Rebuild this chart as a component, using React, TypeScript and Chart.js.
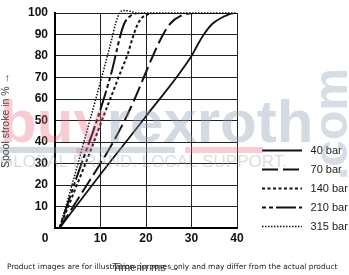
import React, { useEffect, useRef } from "react";
import { Chart, registerables } from "chart.js";

Chart.register(...registerables);

// ---- data ----
const seriesLabels = ["40 bar", "70 bar", "140 bar", "210 bar", "315 bar"];

const t40 = [1, 10, 20, 30, 31.3, 32.7, 34.6, 36.8, 39.4, 40];
const s40 = [0, 25, 52, 80, 85, 90, 95, 98, 100, 100];

const t70 = [1, 7, 10, 12.8, 15.3, 17.5, 19.5, 21.5, 23.5, 25.3, 27.5, 30.5, 40];
const s70 = [0, 20, 30, 40, 50, 60, 70, 80, 89, 95, 98.5, 100, 100];

const t140 = [1, 5, 8, 10.3, 12.5, 14.5, 16, 17, 18, 19, 20.5, 22, 40];
const s140 = [0, 21, 37, 50, 62, 73, 81, 88, 94, 97.5, 99.5, 100, 100];

const t210 = [1, 5, 9.2, 11, 12.5, 13.5, 14.3, 15.2, 16.5, 18.5, 40];
const s210 = [0, 25, 50, 62, 73, 82, 89, 95, 98.5, 100, 100];

const t315 = [1, 4, 7, 10, 11.5, 12.5, 13.3, 14.2, 15, 16.5, 18, 40];
const s315 = [0, 22, 45, 68, 80, 88, 95, 100, 101.2, 100.8, 100, 100];

const xTickValues = [0, 10, 20, 30, 40];
const yTickValues = [0, 10, 20, 30, 40, 50, 60, 70, 80, 90, 100];

const xTitle = "Time in ms \u2192";
const yTitle = "Spool stroke in % \u2192";
const footerText =
  "Product images are for illustration purposes only and may differ from the actual product";

const pts = (t: number[], s: number[]) => t.map((x, i) => ({ x, y: s[i] }));

const FONT = "'Liberation Sans', Arial, sans-serif";

const extras = {
  id: "extras",
  afterLayout(chart: any) {
    const lg = chart.legend;
    if (!lg) return;
    lg.left = 254;
    lg.right = 349;
    lg.width = 95;
    const h = lg.height;
    lg.top = 137;
    lg.bottom = 137 + h;
  },
  afterDraw(chart: any) {
    const ctx = chart.ctx;
    const xs = chart.scales.x;
    const ys = chart.scales.y;
    ctx.save();
    // shared origin label
    ctx.fillStyle = "#111";
    ctx.font = `bold 12px ${FONT}`;
    ctx.textAlign = "center";
    ctx.textBaseline = "middle";
    ctx.fillText("0", xs.getPixelForValue(0) - 10, ys.getPixelForValue(0) + 11);

    // watermark
    ctx.textAlign = "left";
    ctx.textBaseline = "alphabetic";
    ctx.font = `bold 60px ${FONT}`;
    ctx.fillStyle = "rgba(235,100,120,0.33)";
    ctx.fillText("buy", 0, 142);
    const wb = ctx.measureText("buy").width;
    ctx.fillStyle = "rgba(140,158,180,0.38)";
    ctx.fillText("rexroth", wb, 142);
    ctx.fillRect(0, 147, 175, 6);
    ctx.fillStyle = "rgba(235,100,120,0.33)";
    ctx.fillRect(185, 147, 78, 6);
    ctx.font = `17px ${FONT}`;
    ctx.fillStyle = "rgba(165,170,175,0.42)";
    ctx.fillText("GLOBAL BRAND. LOCAL SUPPORT.", 0, 167);
    ctx.save();
    ctx.translate(347, 180);
    ctx.rotate(-Math.PI / 2);
    ctx.font = `bold 48px ${FONT}`;
    ctx.fillStyle = "rgba(140,158,180,0.35)";
    ctx.fillText(".com", 0, 0);
    ctx.restore();

    // footer
    ctx.fillStyle = "#222";
    ctx.font = `7px 'DejaVu Sans', sans-serif`;
    const fw = ctx.measureText(footerText).width;
    const size = (7 * 331) / fw;
    ctx.font = `${size}px 'DejaVu Sans', sans-serif`;
    ctx.textBaseline = "middle";
    ctx.fillText(footerText, 7, 267);
    ctx.restore();
  },
};

export default function App() {
  const ref = useRef<HTMLCanvasElement | null>(null);
  useEffect(() => {
    if (!ref.current) return;
    const common = {
      borderColor: "#111",
      pointRadius: 0,
      fill: false,
      cubicInterpolationMode: "monotone" as const,
    };
    const chart = new Chart(ref.current, {
      type: "line",
      data: {
        datasets: [
          { ...common, label: seriesLabels[0], data: pts(t40, s40), borderWidth: 1.8 },
          { ...common, label: seriesLabels[1], data: pts(t70, s70), borderWidth: 2, borderDash: [16, 5] },
          { ...common, label: seriesLabels[2], data: pts(t140, s140), borderWidth: 2, borderDash: [3, 2.5] },
          { ...common, label: seriesLabels[3], data: pts(t210, s210), borderWidth: 2, borderDash: [4, 3, 4, 3, 20, 3] },
          { ...common, label: seriesLabels[4], data: pts(t315, s315), borderWidth: 1.5, borderDash: [1.5, 1.5], clip: false as any },
        ],
      },
      options: {
        animation: false,
        responsive: true,
        maintainAspectRatio: false,
        layout: { padding: { top: 6, right: 17, bottom: 0, left: 0 } },
        plugins: {
          tooltip: { enabled: false },
          legend: {
            position: "right",
            align: "start",
            maxWidth: 95,
            labels: {
              usePointStyle: true,
              pointStyle: "line",
              pointStyleWidth: 40,
              padding: 8,
              color: "#222",
              font: { family: FONT, size: 11 },
              generateLabels: (c: any) =>
                Chart.defaults.plugins.legend.labels
                  .generateLabels(c)
                  .map((l: any) => {
                    const ds = c.data.datasets[l.datasetIndex];
                    return {
                      ...l,
                      text: " " + l.text,
                      lineDash: ds.borderDash || [],
                      lineWidth: ds.borderWidth,
                      strokeStyle: ds.borderColor,
                      lineCap: "butt",
                    };
                  }),
            },
          },
        },
        scales: {
          x: {
            type: "linear",
            min: 0,
            max: 40,
            afterBuildTicks: (s: any) => {
              s.ticks = xTickValues.map((v) => ({ value: v }));
            },
            afterFit: (s: any) => {
              s.height = 47;
            },
            ticks: {
              callback: (v: any) => (v === 0 ? "" : String(v)),
              color: "#111",
              padding: 5,
              maxRotation: 0,
              font: { family: FONT, size: 12, weight: "bold", lineHeight: 1 },
            },
            grid: { color: "#222", lineWidth: 1, drawTicks: false },
            border: { display: true, color: "#000", width: 2 },
            title: {
              display: true,
              text: xTitle,
              color: "#333",
              padding: 0,
              font: { family: FONT, size: 11 },
            },
          },
          y: {
            type: "linear",
            min: 0,
            max: 100,
            afterBuildTicks: (s: any) => {
              s.ticks = yTickValues.map((v) => ({ value: v }));
            },
            afterFit: (s: any) => {
              s.width = 55;
            },
            ticks: {
              callback: (v: any) => (v === 0 ? "" : String(v)),
              color: "#111",
              padding: 7,
              font: { family: FONT, size: 12, weight: "bold", lineHeight: 1 },
            },
            grid: { color: "#222", lineWidth: 1, drawTicks: false },
            border: { display: true, color: "#000", width: 2 },
            title: {
              display: true,
              text: yTitle,
              color: "#333",
              padding: 0,
              font: { family: FONT, size: 10.5 },
            },
          },
        },
      },
      plugins: [extras],
    });
    return () => chart.destroy();
  }, []);
  return (
    <div style={{ position: "fixed", left: 0, top: 0, width: 349, height: 275, background: "#fff" }}>
      <canvas ref={ref} />
    </div>
  );
}
